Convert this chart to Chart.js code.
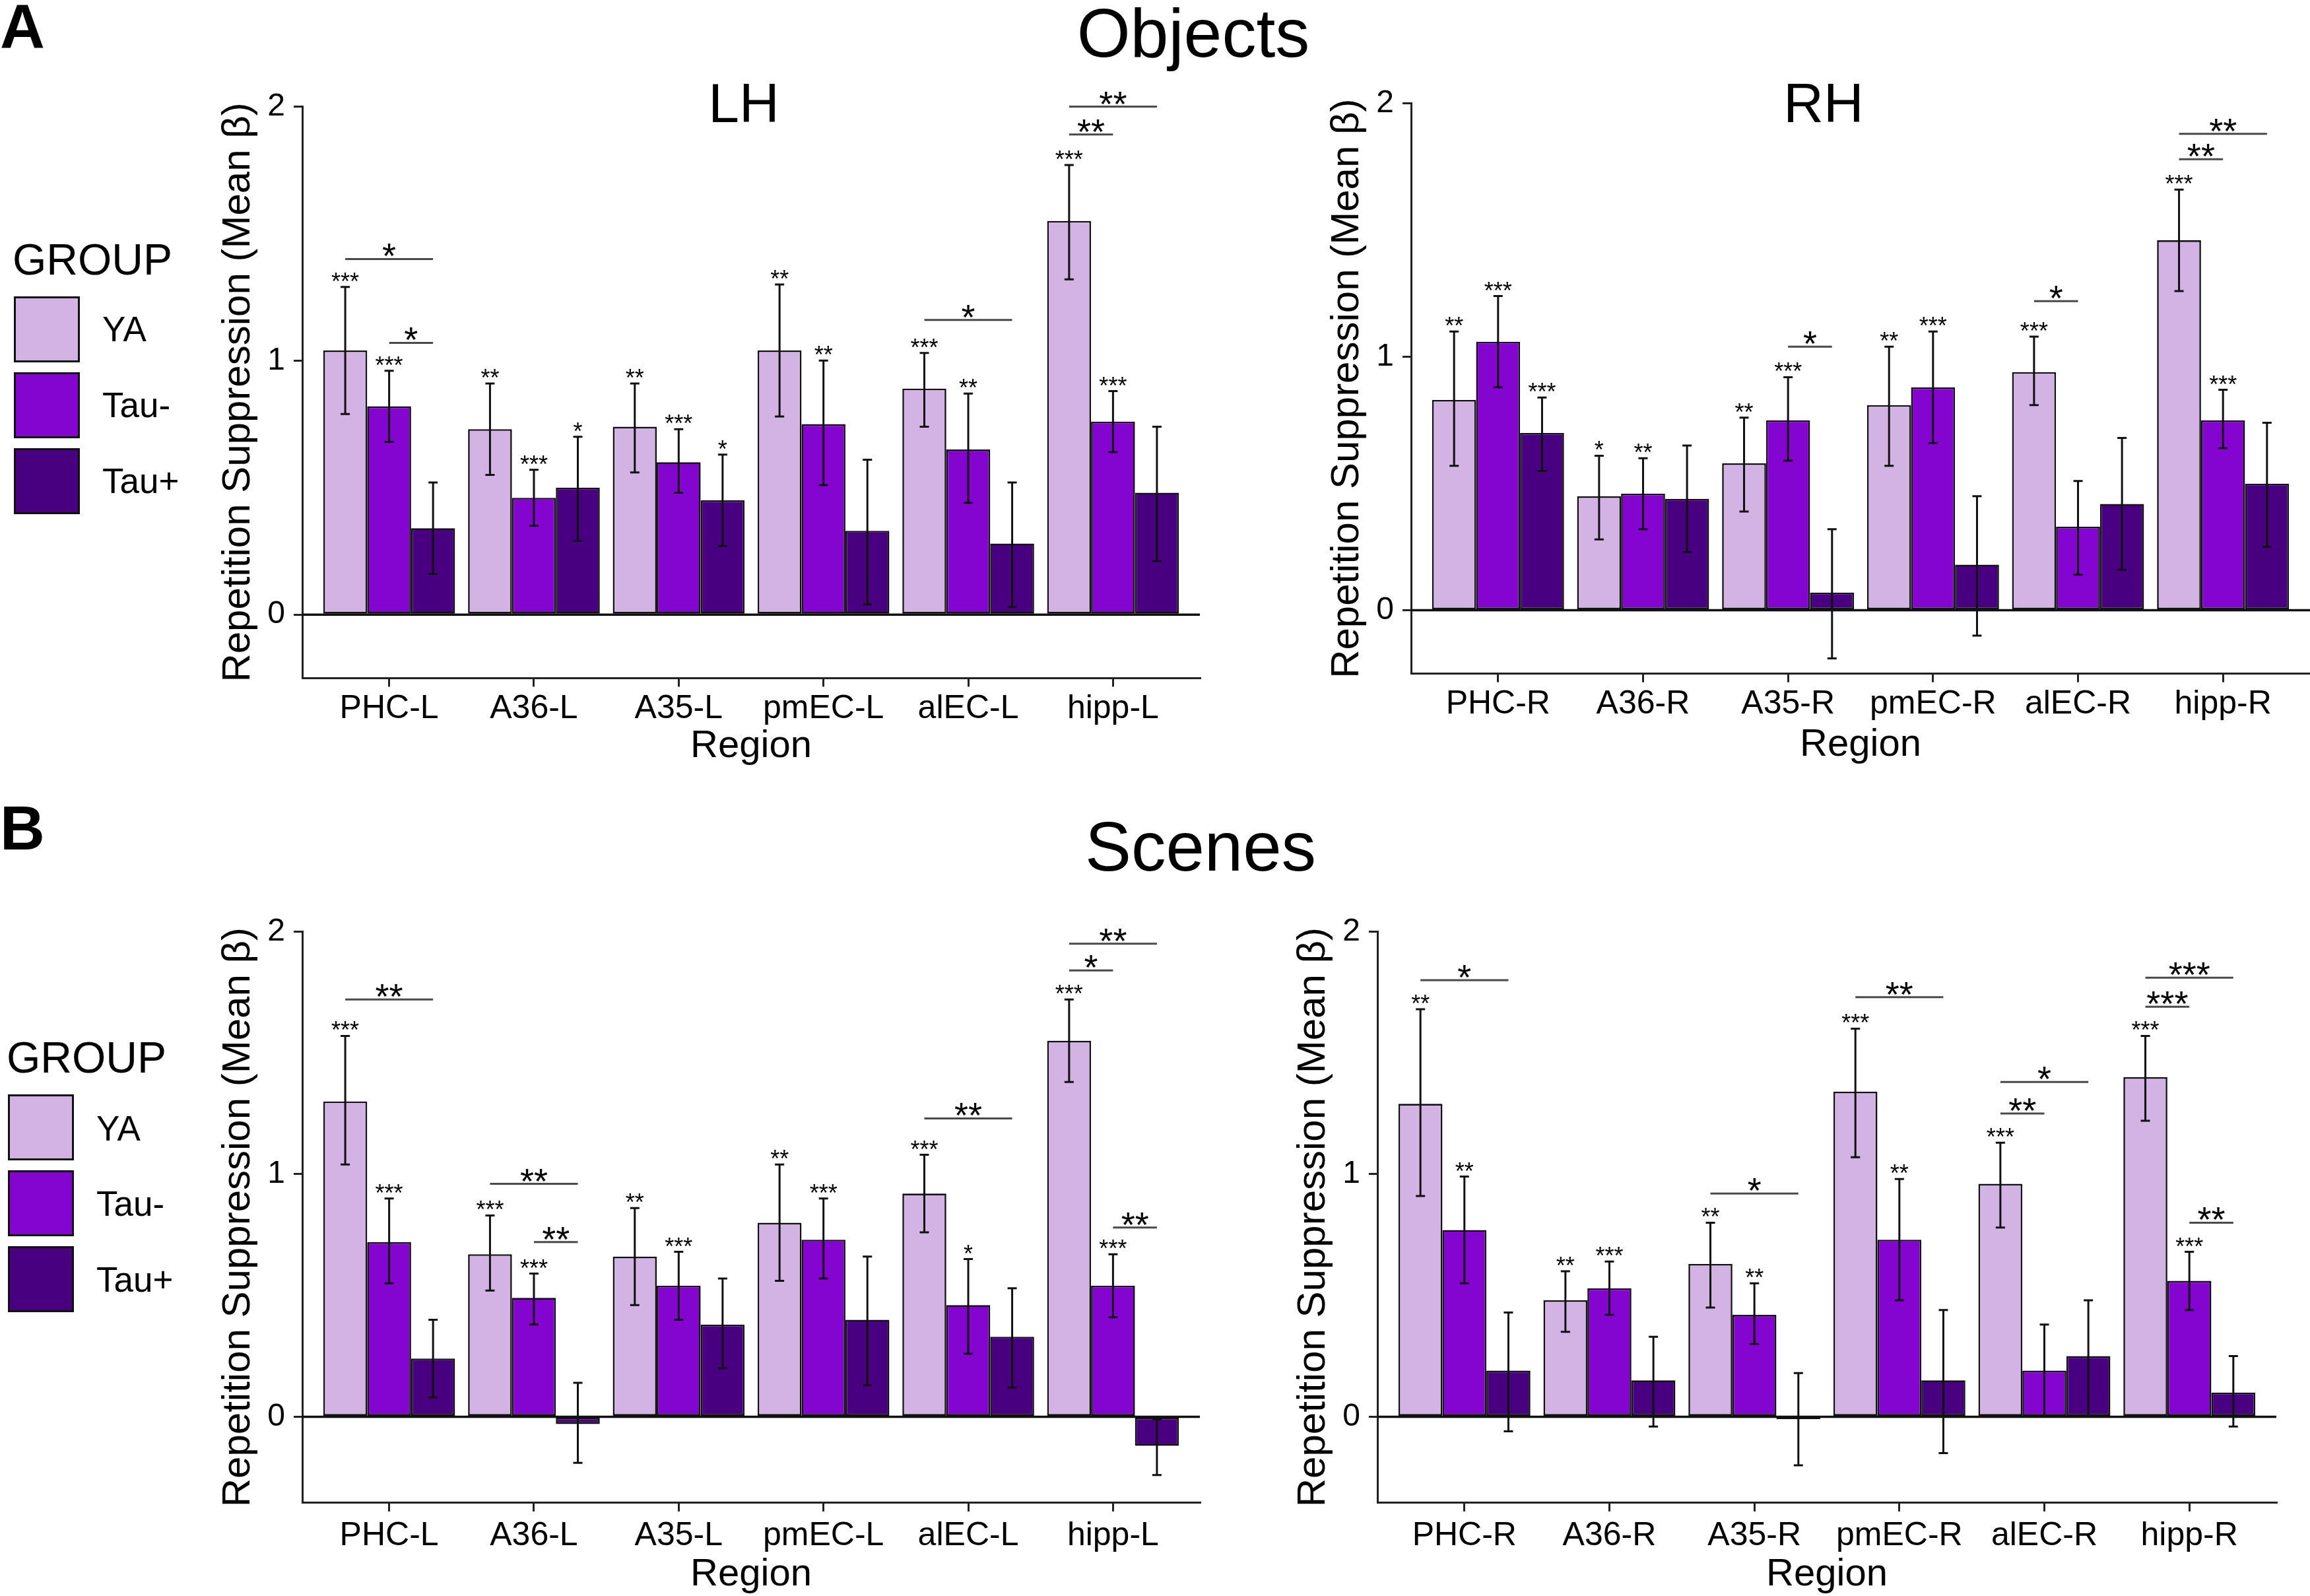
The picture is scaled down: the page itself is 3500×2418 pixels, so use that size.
<!DOCTYPE html>
<html>
<head>
<meta charset="utf-8">
<script src="https://cdn.jsdelivr.net/npm/chart.js@4.4.1/dist/chart.umd.min.js"></script>
<style>
  body { margin: 0; width: 3500px; height: 2418px; background: #fff; position: relative; overflow: hidden;
         font-family: "Liberation Sans", Arial, sans-serif; color: #000; }
  canvas { position: absolute; }
  .t { position: absolute; line-height: 1; white-space: nowrap; }
  .c { text-align: center; width: 1000px; }
  .box { position: absolute; width: 100px; height: 100px; box-sizing: border-box; border: 3px solid #111; }
</style>
</head>
<body>

<div class="t" style="left:0;top:-6px;font-size:94px;font-weight:bold">A</div>
<div class="t" style="left:0;top:1208px;font-size:94px;font-weight:bold">B</div>
<div class="t c" style="left:1308px;top:-2px;font-size:104px">Objects</div>
<div class="t c" style="left:1319px;top:1230px;font-size:105px">Scenes</div>
<div class="t c" style="left:627px;top:114px;font-size:84px">LH</div>
<div class="t c" style="left:2263px;top:114px;font-size:84px">RH</div>

<!-- legend A -->
<div class="t" style="left:19px;top:360px;font-size:66px">GROUP</div>
<div class="box" style="left:21px;top:449px;background:#D3B3E4"></div>
<div class="box" style="left:21px;top:564px;background:#8405D0"></div>
<div class="box" style="left:21px;top:679px;background:#480080"></div>
<div class="t" style="left:155px;top:472px;font-size:53px">YA</div>
<div class="t" style="left:155px;top:587px;font-size:53px">Tau-</div>
<div class="t" style="left:155px;top:702px;font-size:53px">Tau+</div>

<!-- legend B -->
<div class="t" style="left:10px;top:1569px;font-size:66px">GROUP</div>
<div class="box" style="left:12px;top:1658px;background:#D3B3E4"></div>
<div class="box" style="left:12px;top:1773px;background:#8405D0"></div>
<div class="box" style="left:12px;top:1888px;background:#480080"></div>
<div class="t" style="left:146px;top:1683px;font-size:53px">YA</div>
<div class="t" style="left:146px;top:1797px;font-size:53px">Tau-</div>
<div class="t" style="left:146px;top:1912px;font-size:53px">Tau+</div>

<canvas id="objLH" width="1540" height="1160" style="left:290px;top:40px"></canvas>
<canvas id="objRH" width="1530" height="1160" style="left:1970px;top:36px"></canvas>
<canvas id="scnLH" width="1540" height="1132" style="left:290px;top:1290px"></canvas>
<canvas id="scnRH" width="1540" height="1132" style="left:1919px;top:1290px"></canvas>

<script>
const regionsL = ['PHC-L', 'A36-L', 'A35-L', 'pmEC-L', 'alEC-L', 'hipp-L'];
const regionsR = ['PHC-R', 'A36-R', 'A35-R', 'pmEC-R', 'alEC-R', 'hipp-R'];
const groups = ['YA', 'Tau-', 'Tau+'];
const groupColors = ['#D3B3E4', '#8405D0', '#480080'];
const yTicks = [0, 1, 2];

// Objects, left hemisphere  (rows: YA, Tau-, Tau+)
const objLH_mean = [[1.04, 0.73, 0.74, 1.04, 0.89, 1.55], [0.82, 0.46, 0.60, 0.75, 0.65, 0.76], [0.34, 0.50, 0.45, 0.33, 0.28, 0.48]];
const objLH_lo   = [[0.79, 0.55, 0.56, 0.78, 0.74, 1.32], [0.68, 0.35, 0.48, 0.51, 0.44, 0.64], [0.16, 0.29, 0.27, 0.04, 0.03, 0.21]];
const objLH_hi   = [[1.29, 0.91, 0.91, 1.30, 1.03, 1.77], [0.96, 0.57, 0.73, 1.00, 0.87, 0.88], [0.52, 0.70, 0.63, 0.61, 0.52, 0.74]];
const objLH_stars = [['***', '**', '**', '**', '***', '***'], ['***', '***', '***', '**', '**', '***'], ['', '*', '*', '', '', '']];
// [region, from group, to group, y, label]
const objLH_sig = [[0, 0, 2, 1.40, '*'], [0, 1, 2, 1.07, '*'], [4, 0, 2, 1.16, '*'], [5, 0, 1, 1.89, '**'], [5, 0, 2, 2.00, '**']];

// Objects, right hemisphere
const objRH_mean = [[0.83, 0.45, 0.58, 0.81, 0.94, 1.46], [1.06, 0.46, 0.75, 0.88, 0.33, 0.75], [0.70, 0.44, 0.07, 0.18, 0.42, 0.50]];
const objRH_lo   = [[0.57, 0.28, 0.39, 0.57, 0.81, 1.26], [0.88, 0.32, 0.59, 0.66, 0.14, 0.64], [0.55, 0.23, -0.19, -0.10, 0.16, 0.25]];
const objRH_hi   = [[1.10, 0.61, 0.76, 1.04, 1.08, 1.66], [1.24, 0.60, 0.92, 1.10, 0.51, 0.87], [0.84, 0.65, 0.32, 0.45, 0.68, 0.74]];
const objRH_stars = [['**', '*', '**', '**', '***', '***'], ['***', '**', '***', '***', '', '***'], ['***', '', '', '', '', '']];
const objRH_sig = [[2, 1, 2, 1.04, '*'], [4, 0, 1, 1.22, '*'], [5, 0, 1, 1.78, '**'], [5, 0, 2, 1.88, '**']];

// Scenes, left hemisphere
const scnLH_mean = [[1.30, 0.67, 0.66, 0.80, 0.92, 1.55], [0.72, 0.49, 0.54, 0.73, 0.46, 0.54], [0.24, -0.03, 0.38, 0.40, 0.33, -0.12]];
const scnLH_lo   = [[1.04, 0.52, 0.46, 0.56, 0.76, 1.38], [0.55, 0.38, 0.40, 0.57, 0.26, 0.41], [0.08, -0.19, 0.20, 0.13, 0.12, -0.24]];
const scnLH_hi   = [[1.57, 0.83, 0.86, 1.04, 1.08, 1.72], [0.90, 0.59, 0.68, 0.90, 0.65, 0.67], [0.40, 0.14, 0.57, 0.66, 0.53, -0.01]];
const scnLH_stars = [['***', '***', '**', '**', '***', '***'], ['***', '***', '***', '***', '*', '***'], ['', '', '', '', '', '']];
const scnLH_sig = [[0, 0, 2, 1.72, '**'], [1, 0, 2, 0.96, '**'], [1, 1, 2, 0.72, '**'], [4, 0, 2, 1.23, '**'],
                   [5, 0, 1, 1.84, '*'], [5, 0, 2, 1.95, '**'], [5, 1, 2, 0.78, '**']];

// Scenes, right hemisphere
const scnRH_mean = [[1.29, 0.48, 0.63, 1.34, 0.96, 1.40], [0.77, 0.53, 0.42, 0.73, 0.19, 0.56], [0.19, 0.15, -0.01, 0.15, 0.25, 0.10]];
const scnRH_lo   = [[0.91, 0.35, 0.45, 1.07, 0.78, 1.22], [0.55, 0.42, 0.30, 0.48, 0.00, 0.44], [-0.06, -0.04, -0.20, -0.15, 0.00, -0.04]];
const scnRH_hi   = [[1.68, 0.60, 0.80, 1.60, 1.13, 1.57], [0.99, 0.64, 0.55, 0.98, 0.38, 0.68], [0.43, 0.33, 0.18, 0.44, 0.48, 0.25]];
const scnRH_stars = [['**', '**', '**', '***', '***', '***'], ['**', '***', '**', '**', '', '***'], ['', '', '', '', '', '']];
const scnRH_sig = [[0, 0, 2, 1.80, '*'], [2, 0, 2, 0.92, '*'], [3, 0, 2, 1.73, '**'], [4, 0, 1, 1.25, '**'], [4, 0, 2, 1.38, '*'],
                   [5, 0, 1, 1.69, '***'], [5, 0, 2, 1.81, '***'], [5, 1, 2, 0.80, '**']];

const FONT = '"Liberation Sans", Arial, sans-serif';
Chart.defaults.font.family = FONT;
Chart.defaults.color = '#000';

// error bars, zero line, asterisks and comparison brackets
function annotPlugin(lo, hi, stars, sig) {
    return {
        id: 'annot',
        afterDatasetsDraw(chart) {
            const { ctx, chartArea } = chart;
            const y = chart.scales.y;
            ctx.save();

            const y0 = y.getPixelForValue(0);
            ctx.strokeStyle = '#111';
            ctx.lineWidth = 3.5;
            ctx.beginPath();
            ctx.moveTo(chartArea.left, y0);
            ctx.lineTo(chartArea.right, y0);
            ctx.stroke();

            ctx.lineWidth = 3;
            ctx.fillStyle = '#000';
            ctx.textAlign = 'center';
            ctx.textBaseline = 'alphabetic';
            ctx.font = '36px ' + FONT;
            groups.forEach((g, gi) => {
                chart.getDatasetMeta(gi).data.forEach((bar, i) => {
                    const yt = y.getPixelForValue(hi[gi][i]);
                    const yb = y.getPixelForValue(lo[gi][i]);
                    ctx.beginPath();
                    ctx.moveTo(bar.x, yt); ctx.lineTo(bar.x, yb);
                    ctx.moveTo(bar.x - 7, yt); ctx.lineTo(bar.x + 7, yt);
                    ctx.moveTo(bar.x - 7, yb); ctx.lineTo(bar.x + 7, yb);
                    ctx.stroke();
                    if (stars[gi][i]) ctx.fillText(stars[gi][i], bar.x, yt + 4);
                });
            });

            ctx.strokeStyle = '#4a4a4a';
            ctx.font = '54px ' + FONT;
            sig.forEach(([r, g1, g2, v, label]) => {
                const x1 = chart.getDatasetMeta(g1).data[r].x;
                const x2 = chart.getDatasetMeta(g2).data[r].x;
                const yy = y.getPixelForValue(v);
                ctx.beginPath();
                ctx.moveTo(x1, yy); ctx.lineTo(x2, yy);
                ctx.stroke();
                ctx.fillText(label, (x1 + x2) / 2, yy + 14);
            });
            ctx.restore();
        }
    };
}

function makePanel(id, regions, mean, lo, hi, stars, sig, yMin, box) {
    const tickGrid = { display: true, drawOnChartArea: false, drawTicks: true, tickLength: 13, lineWidth: 3, color: '#222', offset: false };
    return new Chart(document.getElementById(id), {
        type: 'bar',
        data: {
            datasets: groups.map((g, gi) => ({
                label: g,
                data: mean[gi].map((v, i) => ({ x: i + 1, y: v })),
                backgroundColor: groupColors[gi],
                borderColor: '#111',
                borderWidth: 2.6,
                borderSkipped: false,
                categoryPercentage: 0.91,
                barPercentage: 1.0
            }))
        },
        options: {
            responsive: false,
            animation: false,
            devicePixelRatio: 1,
            layout: { padding: { top: box.padTop, right: box.padRight, left: 0, bottom: 0 } },
            plugins: { legend: { display: false }, tooltip: { enabled: false } },
            scales: {
                x: {
                    type: 'linear', min: 0.4, max: 6.6, offset: false,
                    afterBuildTicks: s => { s.ticks = regions.map((_, i) => ({ value: i + 1 })); },
                    afterFit: s => { s.height = box.xH; },
                    ticks: { callback: (v, i) => regions[i], font: { size: 50 }, color: '#000', padding: box.tickPad, autoSkip: false, maxRotation: 0 },
                    grid: tickGrid,
                    border: { display: true, color: '#222', width: 3 },
                    title: { display: true, text: 'Region', font: { size: 58 }, color: '#000', padding: { top: 0, bottom: box.titlePad } }
                },
                y: {
                    min: yMin, max: 2,
                    afterBuildTicks: s => { s.ticks = yTicks.map(v => ({ value: v })); },
                    afterFit: s => { s.width = box.yW; },
                    ticks: { font: { size: 48 }, color: '#000', padding: 13 },
                    grid: tickGrid,
                    border: { display: true, color: '#222', width: 3 },
                    title: { display: true, text: 'Repetition Suppression (Mean β)', font: { size: 60 }, color: '#000', padding: { top: 35, bottom: 0 } }
                }
            }
        },
        plugins: [annotPlugin(lo, hi, stars, sig)]
    });
}

makePanel('objLH', regionsL, objLH_mean, objLH_lo, objLH_hi, objLH_stars, objLH_sig, -0.25,
    { padTop: 121.5, padRight: 12, yW: 168, xH: 172.6, tickPad: 4, titlePad: 34 });
makePanel('objRH', regionsR, objRH_mean, objRH_lo, objRH_hi, objRH_stars, objRH_sig, -0.25,
    { padTop: 120.8, padRight: 0, yW: 168, xH: 175.4, tickPad: 4, titlePad: 32 });
makePanel('scnLH', regionsL, scnLH_mean, scnLH_lo, scnLH_hi, scnLH_stars, scnLH_sig, -0.355,
    { padTop: 121.4, padRight: 12, yW: 168, xH: 145.1, tickPad: 7, titlePad: 1 });
makePanel('scnRH', regionsR, scnRH_mean, scnRH_lo, scnRH_hi, scnRH_stars, scnRH_sig, -0.355,
    { padTop: 121.4, padRight: 10, yW: 168, xH: 145.1, tickPad: 7, titlePad: 1 });
</script>
</body>
</html>
